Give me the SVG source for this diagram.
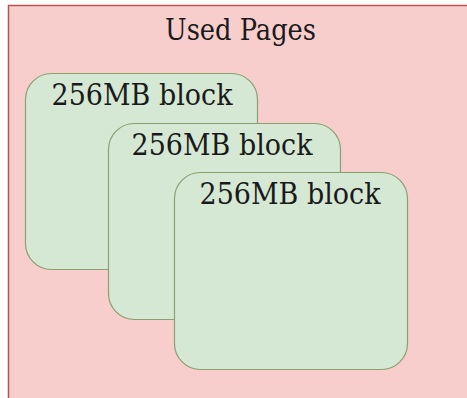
<svg xmlns="http://www.w3.org/2000/svg" width="467" height="398" viewBox="0 0 467 398">
<style>
.outer{fill:#f8cecc;stroke:#b85450;stroke-width:1.5}
.blk{fill:#d5e8d4;stroke:#8a9f72;stroke-width:1.2}
.t{font-family:'DejaVu Serif','Liberation Serif',serif;font-size:30px;fill:#1a1a1a;text-anchor:middle}
</style>
<rect width="467" height="398" fill="#ffffff"/>
<g id="used-pages">
<rect class="outer" x="8.5" y="5.5" width="470" height="400"/>
<text class="t" x="240.5" y="40" textLength="151" lengthAdjust="spacingAndGlyphs">Used Pages</text>
</g>
<g id="block1">
<rect class="blk" x="25.5" y="73.5" width="232" height="196" rx="26" ry="26"/>
<text class="t" x="142" y="105" textLength="181" lengthAdjust="spacingAndGlyphs">256MB block</text>
</g>
<g id="block2">
<rect class="blk" x="108.5" y="123.5" width="232" height="196" rx="26" ry="26"/>
<text class="t" x="222" y="155" textLength="181" lengthAdjust="spacingAndGlyphs">256MB block</text>
</g>
<g id="block3">
<rect class="blk" x="174.5" y="172.5" width="233" height="197" rx="26" ry="26"/>
<text class="t" x="290" y="204" textLength="181" lengthAdjust="spacingAndGlyphs">256MB block</text>
</g>
<g id="connectors"/>
</svg>
